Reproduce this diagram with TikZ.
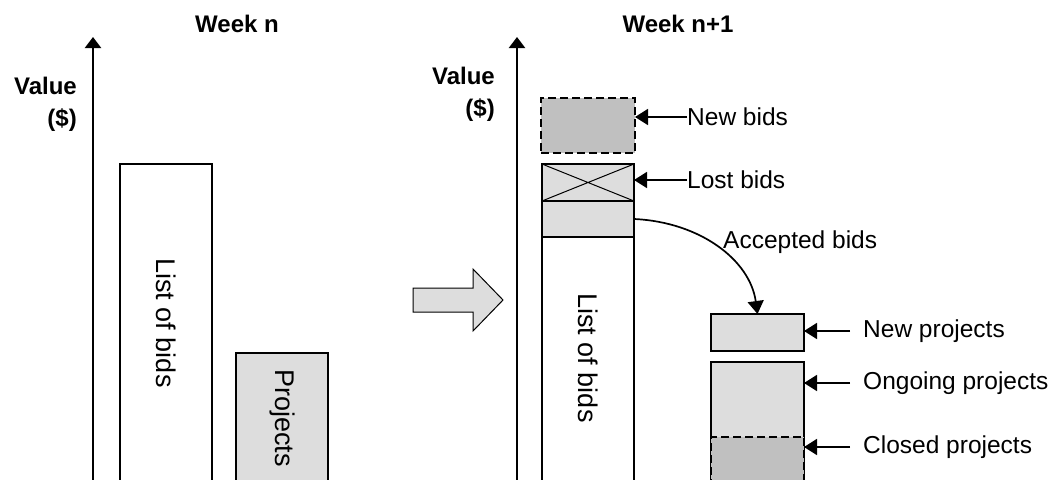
\documentclass[tikz,border=0pt]{standalone}
\usepackage{fontspec}
\setmainfont{Liberation Sans}
\usetikzlibrary{arrows.meta}
\definecolor{barlight}{RGB}{221,221,221}
\definecolor{bardark}{RGB}{192,192,192}
\begin{document}
\begin{tikzpicture}[x=1pt,y=-1pt,
  bar/.style={draw, line width=1.2pt, anchor=north west, inner sep=0pt, outer sep=0pt},
  light/.style={bar, fill=barlight},
  dark/.style={bar, fill=bardark, line width=2pt, dash pattern=on 8pt off 4pt},
  axis/.style={line width=2.2pt, -{Triangle[length=11pt,width=16pt]}},
  pointer/.style={line width=1.7pt, -{Triangle[length=13pt,width=16pt]}},
  lab/.style={font=\fontsize{24.5}{28}\selectfont, anchor=west, inner sep=0pt},
  head/.style={font=\fontsize{24}{28}\selectfont\bfseries, inner sep=0pt},
  ylab/.style={font=\fontsize{24}{32}\selectfont\bfseries, align=right, anchor=east, inner sep=0pt},
  vtext/.style={font=\fontsize{27}{30}\selectfont, rotate=-90, inner sep=0pt}]
\useasboundingbox (0,0) rectangle (1054,479);
\clip (0,0) rectangle (1054,479);

% ---------- week n ----------
\node[head] (t1) at (237,24) {Week n};
\coordinate (a1b) at (93,490);
\coordinate (a1t) at (93,37);
\draw[axis] (a1b) -- (a1t);
\node[ylab] (v1) at (77,104) {Value\\(\$)};

\node[bar, fill=white, minimum width=92pt, minimum height=330pt] (bids1) at (120,164) {};
\node[vtext] (bids1t) at (166,323) {List of bids};
\node[light, minimum width=92pt, minimum height=140pt] (proj1) at (236,353) {};
\node[vtext] (proj1t) at (282,418) {Projects};

% ---------- transition arrow ----------
\draw[line width=1pt, fill=barlight]
  (413,288) -- (473,288) -- (473,269) -- (503,300) -- (473,331) -- (473,312) -- (413,312) -- cycle;

% ---------- week n+1 ----------
\node[head] (t2) at (678,24) {Week n+1};
\coordinate (a2b) at (517,490);
\coordinate (a2t) at (517,37);
\draw[axis] (a2b) -- (a2t);
\node[ylab] (v2) at (495,94) {Value\\(\$)};

\node[dark, minimum width=94pt, minimum height=55pt] (newb) at (541,98) {};
\node[light, minimum width=92pt, minimum height=37pt] (lost) at (542,164) {};
\draw[line width=1pt] (lost.north west) -- (lost.south east)
                      (lost.south west) -- (lost.north east);
\node[light, minimum width=92pt, minimum height=36pt] (acc) at (542,201) {};
\node[bar, fill=white, minimum width=92pt, minimum height=260pt] (bids2) at (542,237) {};
\node[vtext] (bids2t) at (588,358) {List of bids};

\node[light, minimum width=93pt, minimum height=37pt] (newp) at (711,314) {};
\node[light, minimum width=93pt, minimum height=130pt] (ongo) at (711,362) {};
\node[dark, minimum width=93pt, minimum height=60pt] (clos) at (711,437) {};

% ---------- labels and pointers ----------
\node[lab] (lnewb) at (687,117) {New bids};
\draw[pointer] (lnewb.west) -- (newb.east |- lnewb.west);
\node[lab] (llost) at (687,180) {Lost bids};
\draw[pointer] (llost.west) -- (lost.east |- llost.west);

\node[lab] (lacc) at (723,242) {Accepted bids};
\draw[pointer] (acc.east) .. controls (700,222) and (750,260) .. (newp.north);

\node[lab] (lnewp) at (863,331) {New projects};
\draw[pointer] ([xshift=-13pt]lnewp.west) -- (newp.east |- lnewp.west);
\node[lab] (longo) at (863,383) {Ongoing projects};
\draw[pointer] ([xshift=-13pt]longo.west) -- (ongo.east |- longo.west);
\node[lab] (lclos) at (863,447) {Closed projects};
\draw[pointer] ([xshift=-13pt]lclos.west) -- (clos.east |- lclos.west);
\end{tikzpicture}
\end{document}
